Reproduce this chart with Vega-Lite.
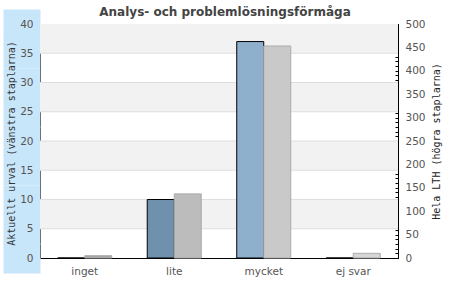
{
  "$schema": "https://vega.github.io/schema/vega-lite/v6.json",
  "width": 358,
  "height": 234,
  "autosize": {"type": "none"},
  "padding": {"left": 40, "top": 24, "right": 52, "bottom": 42},
  "background": "white",
  "title": {
    "text": "Analys- och problemlösningsförmåga",
    "font": "DejaVu Sans",
    "fontSize": 12,
    "fontWeight": "bold",
    "color": "#444444",
    "anchor": "middle",
    "frame": "group",
    "dx": 6,
    "baseline": "alphabetic",
    "offset": -19
  },
  "config": {
    "view": {"stroke": "black", "strokeWidth": 1, "fill": "white"}
  },
  "datasets": {
    "bars": [
      {"kategori": "inget", "serie": "Aktuellt urval", "varde": 0},
      {"kategori": "lite", "serie": "Aktuellt urval", "varde": 10},
      {"kategori": "mycket", "serie": "Aktuellt urval", "varde": 37},
      {"kategori": "ej svar", "serie": "Aktuellt urval", "varde": 0},
      {"kategori": "inget", "serie": "Hela LTH", "varde": 5},
      {"kategori": "lite", "serie": "Hela LTH", "varde": 137},
      {"kategori": "mycket", "serie": "Hela LTH", "varde": 453},
      {"kategori": "ej svar", "serie": "Hela LTH", "varde": 10}
    ],
    "stripes": [
      {"lo": 5, "hi": 10},
      {"lo": 15, "hi": 20},
      {"lo": 25, "hi": 30},
      {"lo": 35, "hi": 40}
    ],
    "grid": [
      {"g": 5}, {"g": 10}, {"g": 15}, {"g": 20}, {"g": 25}, {"g": 30}, {"g": 35}
    ]
  },
  "layer": [
    {
      "data": {"name": "stripes"},
      "mark": {"type": "rect", "fill": "#f2f2f2"},
      "encoding": {
        "y": {"field": "lo", "type": "quantitative", "scale": {"domain": [0, 40], "nice": false}, "axis": null},
        "y2": {"field": "hi"}
      }
    },
    {
      "data": {"name": "grid"},
      "mark": {"type": "rule", "color": "#dedede", "strokeWidth": 1},
      "encoding": {
        "y": {"field": "g", "type": "quantitative", "scale": {"domain": [0, 40], "nice": false}, "axis": null}
      }
    },
    {
      "data": {"name": "bars"},
      "transform": [{"filter": "datum.serie === 'Aktuellt urval'"}],
      "mark": {"type": "bar", "stroke": "black", "strokeWidth": 1},
      "encoding": {
        "x": {
          "field": "kategori",
          "type": "nominal",
          "sort": ["inget", "lite", "mycket", "ej svar"],
          "scale": {"paddingInner": 0.3966, "paddingOuter": 0.1983},
          "axis": {
            "title": null,
            "domain": false,
            "ticks": false,
            "tickSize": 0,
            "labelPadding": 8,
            "labelFont": "DejaVu Sans",
            "labelFontSize": 10.5,
            "labelColor": "#555555",
            "labelAngle": 0
          }
        },
        "xOffset": {
          "field": "serie",
          "type": "nominal",
          "scale": {"domain": ["Aktuellt urval", "Hela LTH"], "paddingInner": 0, "paddingOuter": 0}
        },
        "y": {
          "field": "varde",
          "type": "quantitative",
          "scale": {"domain": [0, 40], "nice": false},
          "axis": {
            "orient": "left",
            "title": "Aktuellt urval (vänstra staplarna)",
            "values": [41.03, 40, 35, 30, 25, 20, 15, 10, 5, 0, -3.93],
            "labelExpr": "datum.value >= 0 && datum.value <= 40 ? datum.label : ''",
            "grid": false,
            "domain": false,
            "ticks": true,
            "tickSize": 37,
            "tickWidth": 30,
            "tickColor": "#c8e6fa",
            "tickCap": "butt",
            "labelPadding": -30,
            "labelFont": "DejaVu Sans",
            "labelFontSize": 10.5,
            "labelColor": "#555555",
            "labelFlush": false,
            "labelOverlap": false,
            "labelBound": false,
            "titleFont": "DejaVu Sans Mono",
            "titleFontSize": 10,
            "titleFontWeight": "normal",
            "titleColor": "#333333",
            "titleX": -26,
            "titleY": 119,
            "titleAngle": -90,
            "titleAlign": "center",
            "titleBaseline": "alphabetic"
          }
        },
        "color": {
          "field": "kategori",
          "type": "nominal",
          "scale": {"domain": ["inget", "lite", "mycket", "ej svar"], "range": ["#5f819d", "#6f91ad", "#8fb0cc", "#a9c6de"]},
          "legend": null
        }
      }
    },
    {
      "data": {"name": "bars"},
      "transform": [{"filter": "datum.serie === 'Hela LTH'"}],
      "mark": {"type": "bar", "stroke": "#ababab", "strokeWidth": 1},
      "encoding": {
        "x": {
          "field": "kategori",
          "type": "nominal",
          "sort": ["inget", "lite", "mycket", "ej svar"],
          "scale": {"paddingInner": 0.3966, "paddingOuter": 0.1983}
        },
        "xOffset": {
          "field": "serie",
          "type": "nominal",
          "scale": {"domain": ["Aktuellt urval", "Hela LTH"], "paddingInner": 0, "paddingOuter": 0}
        },
        "y": {
          "field": "varde",
          "type": "quantitative",
          "scale": {"domain": [0, 500], "nice": false},
          "axis": {
            "orient": "right",
            "title": "Hela LTH (högra staplarna)",
            "values": [0, 10, 20, 30, 40, 50, 60, 70, 80, 90, 100, 110, 120, 130, 140, 150, 160, 170, 180, 190, 200, 210, 220, 230, 240, 250, 260, 270, 280, 290, 300, 310, 320, 330, 340, 350, 360, 370, 380, 390, 400, 410, 420, 430, 440, 450, 460, 470, 480, 490, 500],
            "labelExpr": "datum.value % 50 === 0 ? datum.label : ''",
            "grid": false,
            "domain": true,
            "domainColor": "black",
            "domainWidth": 1,
            "ticks": true,
            "tickSize": -3,
            "tickColor": "black",
            "labelPadding": 10,
            "labelFont": "DejaVu Sans",
            "labelFontSize": 10.5,
            "labelColor": "#555555",
            "labelFlush": false,
            "labelOverlap": false,
            "labelBound": false,
            "titleFont": "DejaVu Sans Mono",
            "titleFontSize": 10,
            "titleFontWeight": "normal",
            "titleColor": "#222222",
            "titleX": 41,
            "titleY": 117,
            "titleAngle": -90,
            "titleAlign": "center",
            "titleBaseline": "alphabetic"
          }
        },
        "color": {
          "field": "kategori",
          "type": "nominal",
          "scale": {"domain": ["inget", "lite", "mycket", "ej svar"], "range": ["#a6a6a6", "#bcbcbc", "#c9c9c9", "#d6d6d6"]},
          "legend": null
        }
      }
    }
  ],
  "resolve": {"scale": {"y": "independent", "color": "independent"}}
}
